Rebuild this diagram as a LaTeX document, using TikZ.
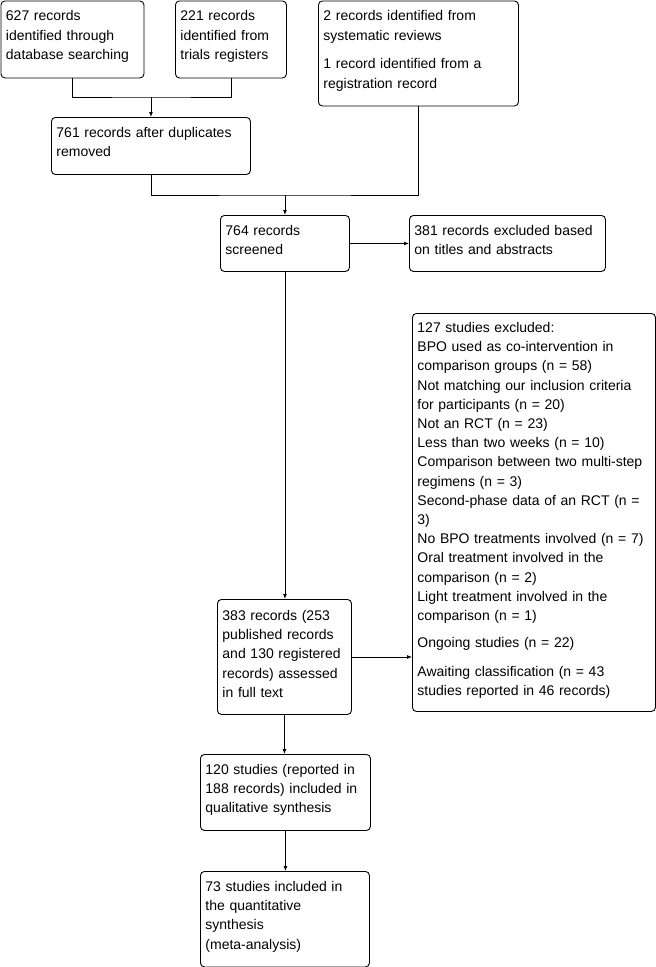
\documentclass[tikz,border=0pt]{standalone}
\usepackage{fontspec}
\setmainfont{Liberation Sans}
\usetikzlibrary{positioning, calc, arrows.meta}

\begin{document}
\begin{tikzpicture}[x=1pt, y=-1pt, thick, line width=0.9pt,
                    every node/.style={font=\fontsize{14}{19.2}\selectfont},
                    box/.style={draw, rounded corners=4pt, anchor=north west, align=left,
                                inner xsep=5pt, inner ysep=0pt, text height=20pt},
                    flow/.style={-{Latex[length=5pt, width=4pt]}}]
    \useasboundingbox (0,0) rectangle (656,967);

    % Nodes (identification)
    \node[box, text width=133pt, text depth=57pt] (DB) at (0.5,0.5)
        {627 records\\identified through\\database searching};
    \node[box, text width=101pt, text depth=57pt] (TR) at (175,0.5)
        {221 records\\identified from\\trials registers};
    \node[box, text width=190pt, text depth=85pt] (SR) at (318,0.5)
        {2 records identified from\\systematic reviews\\[9.5pt]1 record identified from a\\registration record};
    \node[box, text width=189pt, text depth=37pt] (DUP) at (51,117)
        {761 records after duplicates\\removed};

    % Nodes (screening)
    \node[box, text width=119pt, text depth=36pt] (SCR) at (220,215)
        {764 records\\screened};
    \node[box, text width=186pt, text depth=36pt] (EXA) at (409,215)
        {381 records excluded based\\on titles and abstracts};

    % Nodes (eligibility)
    \node[box, text width=233pt, text depth=379pt, text height=19pt] (EXF) at (412,313)
        {127 studies excluded:\\BPO used as co-intervention in\\comparison groups (n = 58)\\
         Not matching our inclusion criteria\\for participants (n = 20)\\Not an RCT (n = 23)\\
         Less than two weeks (n = 10)\\Comparison between two multi-step\\regimens (n = 3)\\
         Second-phase data of an RCT (n =\\3)\\No BPO treatments involved (n = 7)\\
         Oral treatment involved in the\\comparison (n = 2)\\Light treatment involved in the\\
         comparison (n = 1)\\[8pt]Ongoing studies (n = 22)\\[9.5pt]
         Awaiting classification (n = 43\\studies reported in 46 records)};
    \node[box, text width=124pt, text depth=94pt, text height=21pt] (FT) at (217,599)
        {383 records (253\\published records\\and 130 registered\\records) assessed\\in full text};

    % Nodes (included)
    \node[box, text width=160pt, text depth=56pt] (QL) at (200,754)
        {120 studies (reported in\\188 records) included in\\qualitative synthesis};
    \node[box, text width=159pt, text depth=75.5pt] (QN) at (200,871)
        {73 studies included in\\the quantitative\\synthesis\\(meta-analysis)};

    % Joints
    \coordinate (J1) at (DUP.north |- 0,97);
    \coordinate (J2) at (SCR.north |- 0,195);

    % Edges
    \draw (DB.south) |- (J1) -| (TR.south);
    \draw[flow] (J1) -- (DUP.north);
    \draw (DUP.south) |- (J2) -| (SR.south);
    \draw[flow] (J2) -- (SCR.north);
    \draw[flow] (SCR.east) -- (EXA.west);
    \draw[flow] (SCR.south) -- (SCR.south |- FT.north);
    \draw[flow] (FT.east) -- (FT.east -| EXF.west);
    \draw[flow] (FT.south) -- (FT.south |- QL.north);
    \draw[flow] (QL.south) -- (QL.south |- QN.north);

\end{tikzpicture}
\end{document}
